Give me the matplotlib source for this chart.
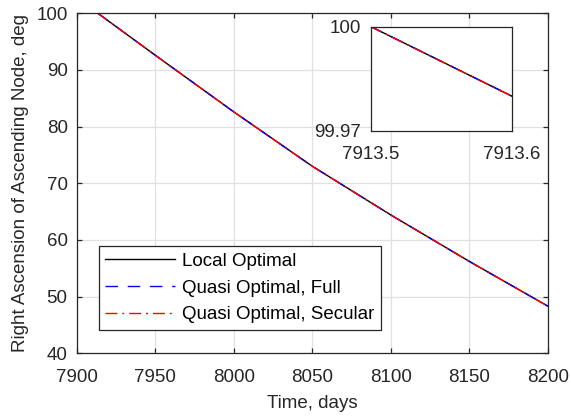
import matplotlib
matplotlib.use('Agg')
import matplotlib.pyplot as plt

# data
# =======================
timeDays = [7913.5, 7950, 8000, 8050, 8100, 8150, 8200]
raanLocal = [100.0, 92.6, 82.6, 73.0, 64.4, 56.2, 48.3]
raanFull = [100.0, 92.6, 82.6, 73.0, 64.4, 56.2, 48.3]
raanSecular = [100.0, 92.6, 82.6, 73.0, 64.4, 56.2, 48.3]

# zoomed part for the inset
zoomDays = [7913.5, 7913.6]
zoomLocal = [100.0, 99.980]
zoomFull = [100.0, 99.980]
zoomSecular = [100.0, 99.980]

xTicks = [7900, 7950, 8000, 8050, 8100, 8150, 8200]
yTicks = [40, 50, 60, 70, 80, 90, 100]
labels = ['Local Optimal', 'Quasi Optimal, Full', 'Quasi Optimal, Secular']

# style
# =======================
plt.rcParams['font.family'] = ['Liberation Sans', 'DejaVu Sans']
plt.rcParams['font.size'] = 13.5
axisColor = '#262626'
gridColor = '#e0e0e0'


def style_axes(ax):
    for spine in ax.spines.values():
        spine.set_color(axisColor)
        spine.set_linewidth(0.9)
    ax.tick_params(direction='in', top=True, right=True, colors=axisColor,
                   labelcolor=axisColor, length=3.6, width=0.9)


def draw_lines(ax, x, yLocal, yFull, ySec):
    ax.plot(x, yLocal, color='black', lw=1.0, label=labels[0])
    ax.plot(x, yFull, color='#0000ff', lw=1.0, ls=(0, (9, 7)), label=labels[1])
    ax.plot(x, ySec, color='#ff0000', lw=1.0, ls=(0, (8.5, 3.6, 1.4, 3.6)), label=labels[2])


# main axes
# =======================
fig = plt.figure(figsize=(5.71, 4.19), dpi=100)
ax = fig.add_axes([0.1343, 0.1568, 0.8255, 0.8115])
draw_lines(ax, timeDays, raanLocal, raanFull, raanSecular)
ax.set_xlim(7900, 8200)
ax.set_ylim(40, 100)
ax.set_xticks(xTicks)
ax.set_yticks(yTicks)
ax.grid(True, color=gridColor, lw=0.9)
ax.set_axisbelow(True)
style_axes(ax)
ax.tick_params(axis='x', pad=11.5)
ax.tick_params(axis='y', pad=6.5)
ax.set_xlabel('Time, days', color=axisColor, labelpad=6)
ax.set_ylabel('Right Ascension of Ascending Node, deg', color=axisColor, labelpad=5)

leg = ax.legend(loc='lower left', bbox_to_anchor=(0.047, 0.0685), fancybox=False,
                framealpha=1, edgecolor=axisColor, handlelength=3.7,
                borderaxespad=0, labelspacing=0.52, handletextpad=0.38,
                borderpad=0.35)
leg.get_frame().set_linewidth(0.9)

# inset
# =======================
axIn = fig.add_axes([0.6497, 0.6874, 0.2470, 0.2489])
draw_lines(axIn, zoomDays, zoomLocal, zoomFull, zoomSecular)
axIn.set_xlim(7913.5, 7913.6)
axIn.set_ylim(99.97, 100)
axIn.set_xticks([7913.5, 7913.6])
axIn.set_xticklabels(['7913.5', '7913.6'])
axIn.set_yticks([99.97, 100])
axIn.set_yticklabels(['99.97', '100'])
style_axes(axIn)
axIn.tick_params(length=0)
axIn.tick_params(axis='x', pad=11)
axIn.tick_params(axis='y', pad=7)

fig.savefig('out.png', dpi=100)
